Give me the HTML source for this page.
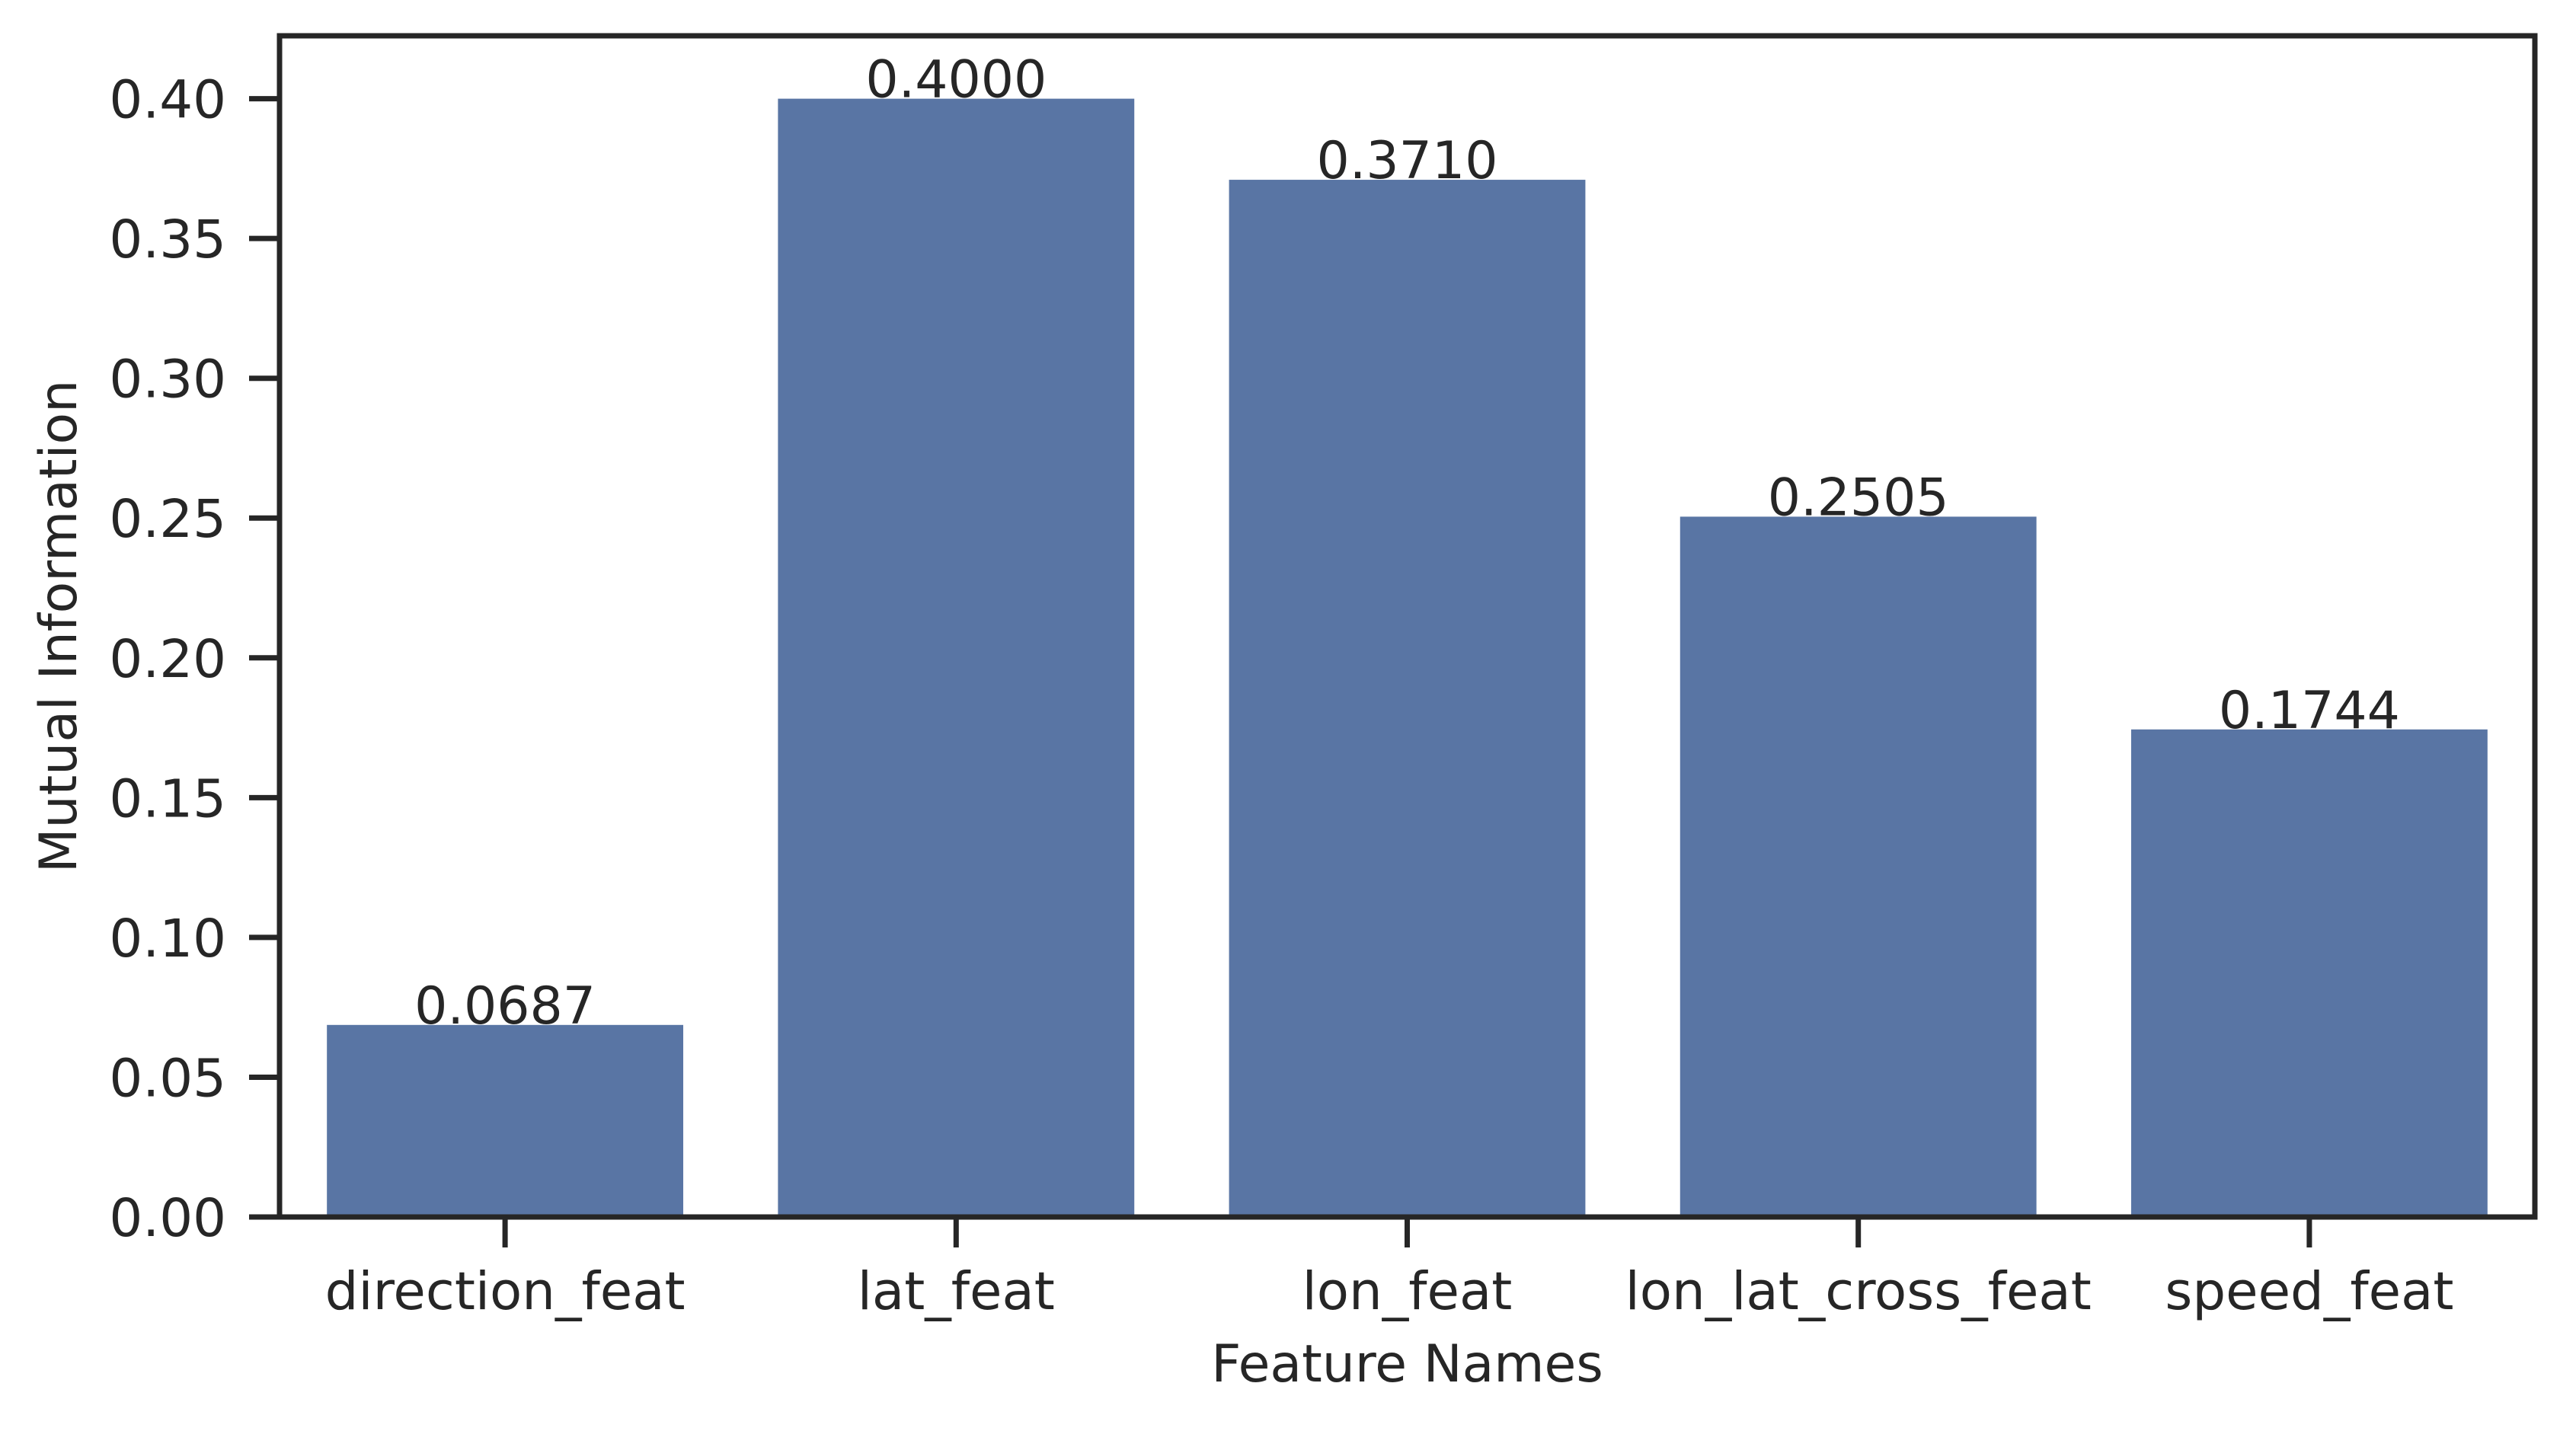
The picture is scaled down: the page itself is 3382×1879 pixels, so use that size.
<!DOCTYPE html>
<html><head><meta charset="utf-8"><style>
html,body{margin:0;padding:0;background:#fff;}
svg{display:block;font-family:"DejaVu Sans","Liberation Sans",sans-serif;}
</style></head><body>
<svg id="chart" width="3382" height="1879" viewBox="0 0 3382 1879">
<g id="bars"></g>
<g id="axes"></g>
</svg>
<script>
const categories = ["direction_feat","lat_feat","lon_feat","lon_lat_cross_feat","speed_feat"];
const values = [0.0687,0.4000,0.3710,0.2505,0.1744];
const valueLabels = ["0.0687","0.4000","0.3710","0.2505","0.1744"];
const yTicks = [0,0.05,0.10,0.15,0.20,0.25,0.30,0.35,0.40];
const yTickLabels = ["0.00","0.05","0.10","0.15","0.20","0.25","0.30","0.35","0.40"];

const L=367,R=3328,T=47,B=1598,yMax=0.4225;
const NS="http://www.w3.org/2000/svg";
const n=categories.length, step=(R-L)/n;
function xC(i){return L+step*(i+0.5);}
function yS(v){return B-(v/yMax)*(B-T);}
function mk(tag,attrs,parent,text){const e=document.createElementNS(NS,tag);for(const k in attrs)e.setAttribute(k,attrs[k]);if(text!==undefined)e.textContent=text;parent.appendChild(e);return e;}
const bars=document.getElementById('bars'), axes=document.getElementById('axes');
const C="#262626";
values.forEach((v,i)=>{
  const w=step*0.79;
  const r=mk('rect',{x:xC(i)-w/2,y:yS(v),width:w,height:B-yS(v),fill:"#5975a4"},bars);
  
  
  const t=mk('text',{x:xC(i),y:yS(v)-2,'font-size':68,'text-anchor':'middle',fill:C},bars,valueLabels[i]);
  
  
  const tk=mk('line',{x1:xC(i),x2:xC(i),y1:B,y2:B+40,stroke:C,'stroke-width':7},axes);
  
  
  const tl=mk('text',{x:xC(i),y:1719,'font-size':69,'text-anchor':'middle',fill:C},axes,categories[i]);
  
  
});
yTicks.forEach((v,i)=>{
  const tk=mk('line',{x1:L-40,x2:L,y1:yS(v),y2:yS(v),stroke:C,'stroke-width':7},axes);
  
  
  const tl=mk('text',{x:297,y:yS(v)+25,'font-size':69,'text-anchor':'end',fill:C},axes,yTickLabels[i]);
  
  
});
const fr=mk('rect',{x:L,y:T,width:R-L,height:B-T,fill:'none',stroke:C,'stroke-width':7},axes);


const xl=mk('text',{x:(L+R)/2,y:1814,'font-size':68,'text-anchor':'middle',fill:C},axes,"Feature Names");


const yl=mk('text',{x:0,y:0,'font-size':68,'text-anchor':'middle',fill:C,transform:'translate(100,'+((T+B)/2)+') rotate(-90)'},axes,"Mutual Information");


</script>
</body></html>
